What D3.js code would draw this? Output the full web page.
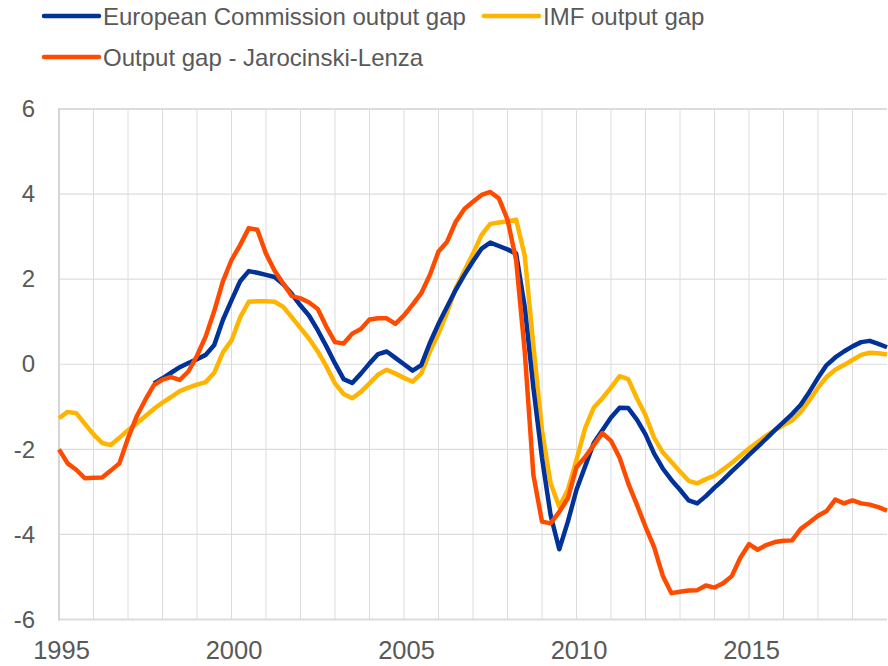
<!DOCTYPE html>
<html>
<head>
<meta charset="utf-8">
<script src="https://cdn.jsdelivr.net/npm/d3@7"></script>
<style>
  body { margin: 0; background: #fff; }
  text { font-family: "Liberation Sans", Arial, sans-serif; fill: #595959; }
</style>
</head>
<body>
<script>
const width = 888;
const height = 666;

// quarterly observations, 1995Q1 .. 2019Q1
const startYear = 1995;
const seriesNames = ['European Commission output gap', 'IMF output gap', 'Output gap - Jarocinski-Lenza'];
const seriesColors = ['#003299', '#ffb400', '#ff4b00'];

const ecGap = [
  null, null, null, null,
  null, null, null, null,
  null, null, null, -0.45,
  -0.33, -0.2, -0.07, 0.03,
  0.12, 0.22, 0.45, 1.04,
  1.5, 1.95, 2.19, 2.15,
  2.1, 2.05, 1.88, 1.65,
  1.38, 1.14, 0.8, 0.42,
  0.02, -0.35, -0.44, -0.22,
  0.02, 0.24, 0.3, 0.15,
  0.0, -0.15, -0.02, 0.5,
  0.95, 1.35, 1.75, 2.1,
  2.42, 2.72, 2.86, 2.78,
  2.7, 2.6, 1.35, -0.55,
  -2.2, -3.55, -4.35, -3.7,
  -2.95, -2.4, -1.85, -1.55,
  -1.25, -1.02, -1.03, -1.3,
  -1.65, -2.1, -2.45, -2.72,
  -2.95, -3.2, -3.27, -3.1,
  -2.9, -2.72, -2.52, -2.33,
  -2.13, -1.94, -1.75, -1.55,
  -1.36, -1.17, -0.95, -0.65,
  -0.32, -0.02, 0.16, 0.3,
  0.42, 0.52, 0.55, 0.48,
  0.4
];

const imfGap = [
  -1.27, -1.12, -1.15, -1.4,
  -1.65, -1.85, -1.9, -1.73,
  -1.55, -1.39, -1.22, -1.05,
  -0.9, -0.77, -0.63, -0.55,
  -0.48, -0.42, -0.2, 0.28,
  0.56, 1.1, 1.47, 1.48,
  1.48, 1.47, 1.35, 1.1,
  0.85, 0.6, 0.3, -0.05,
  -0.45, -0.7, -0.8, -0.65,
  -0.45, -0.24, -0.13, -0.22,
  -0.32, -0.41, -0.22, 0.3,
  0.72, 1.22, 1.78, 2.2,
  2.6, 3.04, 3.3, 3.33,
  3.36, 3.4, 2.55, 0.45,
  -1.55, -2.8, -3.35, -2.95,
  -2.25, -1.5, -1.02, -0.8,
  -0.55, -0.28, -0.35, -0.8,
  -1.2, -1.73, -2.07, -2.3,
  -2.52, -2.74, -2.8, -2.7,
  -2.62, -2.47, -2.32, -2.15,
  -1.98, -1.83, -1.68, -1.55,
  -1.43, -1.32, -1.12, -0.85,
  -0.55, -0.3, -0.13, -0.02,
  0.1, 0.22, 0.27, 0.26,
  0.23
];

const jlGap = [
  -2.0, -2.33, -2.48, -2.68,
  -2.67, -2.66, -2.5, -2.33,
  -1.74, -1.23, -0.84, -0.49,
  -0.36, -0.3, -0.37, -0.17,
  0.2, 0.65, 1.25, 1.95,
  2.45, 2.8, 3.2, 3.16,
  2.6, 2.2, 1.9, 1.6,
  1.55, 1.45, 1.3, 0.88,
  0.52, 0.49, 0.72, 0.83,
  1.05, 1.08, 1.08, 0.95,
  1.15, 1.4, 1.67, 2.1,
  2.65, 2.88, 3.35, 3.65,
  3.82, 3.98, 4.05, 3.9,
  3.4, 2.45, 0.3, -2.6,
  -3.7, -3.74, -3.47, -3.15,
  -2.42, -2.18, -1.9, -1.62,
  -1.8, -2.2, -2.8, -3.3,
  -3.82, -4.3, -4.97, -5.38,
  -5.35, -5.32, -5.31, -5.2,
  -5.25, -5.15, -4.98, -4.55,
  -4.23, -4.36, -4.25, -4.18,
  -4.15, -4.14, -3.87, -3.72,
  -3.56, -3.45, -3.18, -3.27,
  -3.2, -3.27, -3.3, -3.36,
  -3.44
];

const yTicks = [-6, -4, -2, 0, 2, 4, 6];
const xLabels = [1995, 2000, 2005, 2010, 2015];

const svg = d3.select('body').append('svg').attr('width', width).attr('height', height);

const xs = d3.scaleLinear().domain([1995, 2019]).range([59, 887]);
const ys = d3.scaleLinear().domain([-6, 6]).range([619.5, 109]);

// grid
const grid = svg.append('g');
grid.selectAll('.vgrid')
  .data(d3.range(1996, 2019))
  .enter().append('line')
  .attr('x1', d => xs(d)).attr('x2', d => xs(d))
  .attr('y1', ys(6)).attr('y2', ys(-6))
  .style('stroke', '#dcdcdc').style('stroke-width', 1);
grid.selectAll('.hgrid')
  .data(yTicks)
  .enter().append('line')
  .attr('x1', xs(1995)).attr('x2', xs(2019))
  .attr('y1', d => ys(d)).attr('y2', d => ys(d))
  .style('stroke', '#dcdcdc').style('stroke-width', d => (d === 6 || d === -6) ? 2 : 1.2);
grid.append('line')
  .attr('x1', xs(1995)).attr('x2', xs(1995))
  .attr('y1', ys(6) - 1).attr('y2', ys(-6) + 1)
  .style('stroke', '#d6d6d6').style('stroke-width', 2);

// axes labels
const yaxis = d3.axisLeft(ys).tickValues(yTicks).tickFormat(d => String(d)).tickSize(0).tickPadding(24);
svg.append('g')
  .attr('transform', 'translate(' + xs(1995) + ',0)')
  .call(yaxis)
  .call(g => g.select('.domain').remove())
  .selectAll('text')
    .style('font-size', '24px')
    .style('fill', '#595959');

const xaxis = d3.axisBottom(xs).tickValues(xLabels).tickFormat(d3.format('d')).tickSize(0).tickPadding(21);
svg.append('g')
  .attr('transform', 'translate(0,' + ys(-6) + ')')
  .call(xaxis)
  .call(g => g.select('.domain').remove())
  .selectAll('text')
    .attr('dx', 2)
    .style('font-size', '25.5px')
    .style('fill', '#595959');

// lines
const allSeries = [ecGap, imfGap, jlGap];
const line = d3.line()
  .defined(d => d != null)
  .x((d, i) => xs(startYear + i / 4))
  .y(d => ys(d));

[1, 0, 2].forEach(function(k) {
  svg.append('path')
    .datum(allSeries[k])
    .attr('d', line)
    .style('fill', 'none')
    .style('stroke', seriesColors[k])
    .style('stroke-width', 4.5)
    .style('stroke-linejoin', 'round');
});

// legend
const legendItems = [
  {name: seriesNames[0], color: seriesColors[0], x: 44, y: 16},
  {name: seriesNames[1], color: seriesColors[1], x: 484, y: 16},
  {name: seriesNames[2], color: seriesColors[2], x: 44, y: 57}
];
const legend = svg.append('g');
legend.selectAll('line')
  .data(legendItems)
  .enter().append('line')
  .attr('x1', d => d.x).attr('x2', d => d.x + 55)
  .attr('y1', d => d.y).attr('y2', d => d.y)
  .style('stroke', d => d.color)
  .style('stroke-width', 4.5)
  .style('stroke-linecap', 'round');
legend.selectAll('text')
  .data(legendItems)
  .enter().append('text')
  .attr('x', d => d.x + 59)
  .attr('y', d => d.y + 8.5)
  .text(d => d.name)
  .style('font-size', '24px')
  .style('fill', '#595959');
</script>
</body>
</html>
